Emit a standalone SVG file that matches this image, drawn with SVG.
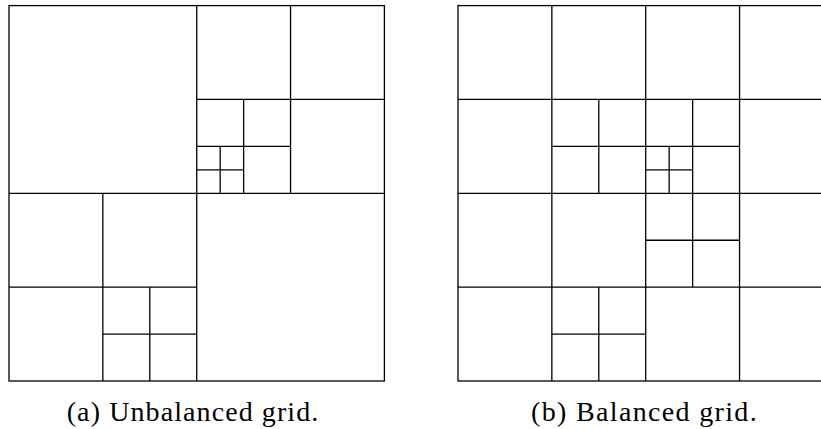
<svg xmlns="http://www.w3.org/2000/svg" width="821" height="429" viewBox="0 0 821 429">
  <style>
    .cell { fill: none; stroke: #000; stroke-width: 1.3; }
    .cap { font-family: "Liberation Serif", "DejaVu Serif", serif; font-size: 28px; fill: #000; }
  </style>
  <rect width="821" height="429" fill="#fff"/>

  <!-- (a) quadtree refined only where needed -->
  <g id="grid-unbalanced" class="cell">
    <rect x="9" y="5.6" width="375.4" height="375.4"/>
    <line x1="196.7" y1="5.6" x2="196.7" y2="381"/>
    <line x1="9" y1="193.3" x2="384.4" y2="193.3"/>
    <!-- top-right quadrant -->
    <line x1="290.55" y1="5.6" x2="290.55" y2="193.3"/>
    <line x1="196.7" y1="99.45" x2="384.4" y2="99.45"/>
    <line x1="243.63" y1="99.45" x2="243.63" y2="193.3"/>
    <line x1="196.7" y1="146.38" x2="290.55" y2="146.38"/>
    <line x1="220.16" y1="146.38" x2="220.16" y2="193.3"/>
    <line x1="196.7" y1="169.84" x2="243.63" y2="169.84"/>
    <!-- bottom-left quadrant -->
    <line x1="102.85" y1="193.3" x2="102.85" y2="381"/>
    <line x1="9" y1="287.15" x2="196.7" y2="287.15"/>
    <line x1="149.78" y1="287.15" x2="149.78" y2="381"/>
    <line x1="102.85" y1="334.08" x2="196.7" y2="334.08"/>
  </g>

  <!-- (b) same refinement with 2:1 balance enforced -->
  <g id="grid-balanced" class="cell">
    <rect x="458" y="5.6" width="375.4" height="375.4"/>
    <line x1="645.7" y1="5.6" x2="645.7" y2="381"/>
    <line x1="458" y1="193.3" x2="833.4" y2="193.3"/>
    <line x1="551.85" y1="5.6" x2="551.85" y2="381"/>
    <line x1="739.55" y1="5.6" x2="739.55" y2="381"/>
    <line x1="458" y1="99.45" x2="833.4" y2="99.45"/>
    <line x1="458" y1="287.15" x2="833.4" y2="287.15"/>
    <!-- finer cells -->
    <line x1="598.78" y1="99.45" x2="598.78" y2="193.3"/>
    <line x1="551.85" y1="146.38" x2="739.55" y2="146.38"/>
    <line x1="692.63" y1="99.45" x2="692.63" y2="287.15"/>
    <line x1="669.16" y1="146.38" x2="669.16" y2="193.3"/>
    <line x1="645.7" y1="169.84" x2="692.63" y2="169.84"/>
    <line x1="645.7" y1="240.23" x2="739.55" y2="240.23"/>
    <line x1="598.78" y1="287.15" x2="598.78" y2="381"/>
    <line x1="551.85" y1="334.08" x2="645.7" y2="334.08"/>
  </g>

  <text class="cap" x="66.7" y="421" textLength="251.6" lengthAdjust="spacing">(a) Unbalanced grid.</text>
  <text class="cap" x="531" y="421" textLength="225.7" lengthAdjust="spacing">(b) Balanced grid.</text>
</svg>
